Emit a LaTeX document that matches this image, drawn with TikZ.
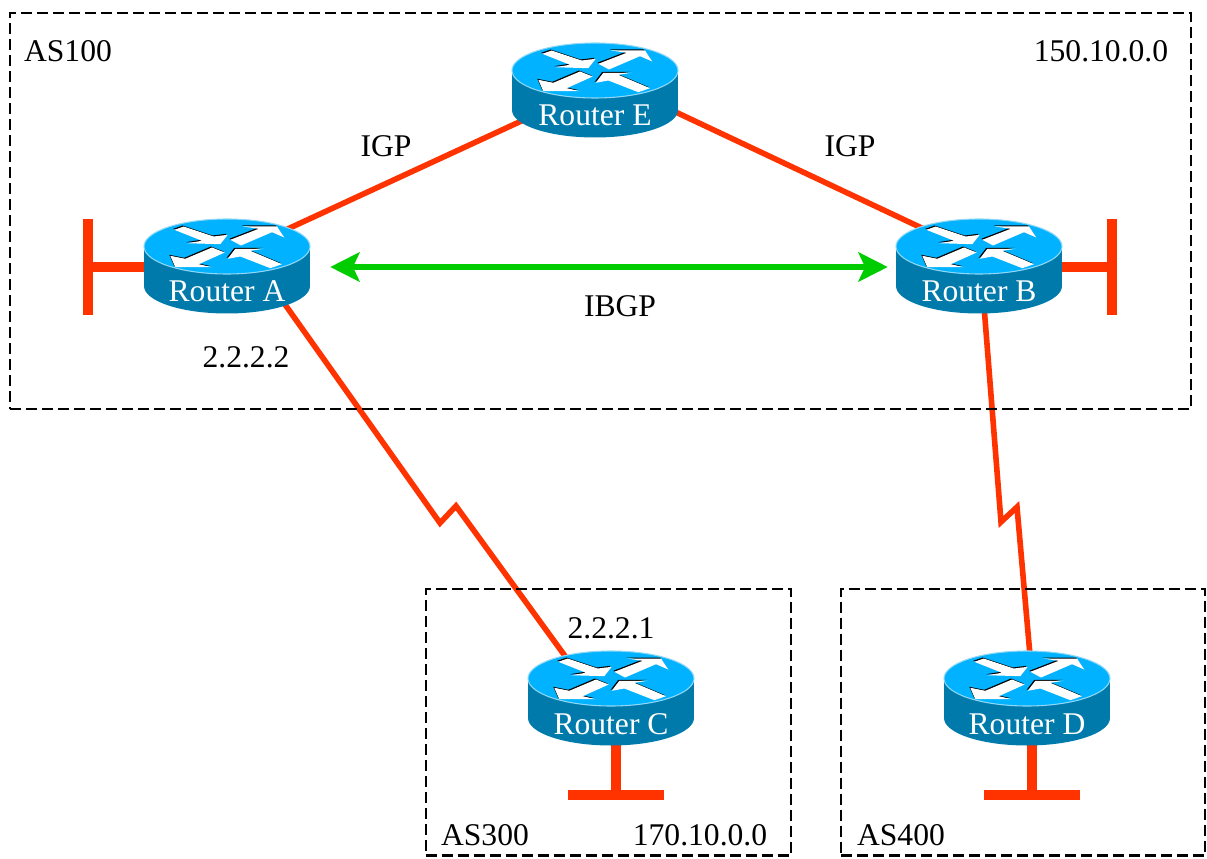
\documentclass[tikz,border=0pt]{standalone}
\usepackage{fontspec}
\setmainfont{Liberation Serif}
\usetikzlibrary{calc,arrows.meta,backgrounds}
\definecolor{wanred}{HTML}{FF3300}
\definecolor{ibgpgreen}{HTML}{00CC00}
\definecolor{routertop}{HTML}{00B2FF}
\definecolor{routerside}{HTML}{007AAB}
\definecolor{routeredge}{HTML}{8FD8F5}
\tikzset{
  asbox/.style={draw=black,line width=2.1pt,dash pattern=on 8.2pt off 3.8pt},
  wan/.style={draw=wanred,line width=4.2pt,line join=miter,line cap=butt},
  stub/.style={draw=wanred,line width=8.2pt},
  ibgp/.style={draw=ibgpgreen,line width=3.9pt,{Stealth[length=22pt,width=22pt,inset=5pt]}-{Stealth[length=22pt,width=22pt,inset=5pt]},shorten >=0pt,shorten <=0pt},
  lbl/.style={font=\fontsize{23.7pt}{26pt}\selectfont,inner sep=0pt,anchor=base,text=black},
  rlbl/.style={lbl,text=white},
  rbody/.style={inner sep=0pt,minimum width=124.5pt,minimum height=70.5pt},
}
\newcommand{\routerat}[4]{%
  \begin{scope}[shift={(#2,#3)}]
    \fill[routerside] (0,20) ellipse [x radius=83,y radius=27.5];
    \fill[routerside] (-83,-19.5) rectangle (83,20);
    \fill[routertop,draw=routeredge,line width=.8pt] (0,-19.5) ellipse [x radius=83,y radius=27.5];
    \begin{scope}[shift={(0,-19.5)}]
      \foreach \sx/\sc in {-1/black,0/white}{
        \begin{scope}[shift={(\sx,\sx)}]
          \fill[\sc] (-52.7,-16.7)--(-43.3,-20)--(-13.3,-10)--(.7,-11.7)--(-6.7,-2.3)--(-40,-3.3)--(-25,-5.7)--cycle;
          \fill[\sc] (3.3,-6.7)--(31.7,-17.7)--(16,-20)--(50,-20)--(57.3,-9)--(45,-14.3)--(14,-1)--cycle;
          \fill[\sc] (-56.7,9.3)--(-41.7,12.3)--(-15,1)--(-2.3,6)--(-28.3,17.7)--(-15,20.7)--(-51.7,20.7)--cycle;
          \fill[\sc] (.7,12.3)--(8.3,2.3)--(36.7,2.3)--(23.3,4.3)--(55,17.7)--(43.3,21.7)--(13.3,10)--cycle;
        \end{scope}
      }
    \end{scope}
  \end{scope}
  \node[rbody] (#1) at (#2,#3) {};
  \node[rlbl] (#1-label) at (#2,#3+36) {#4};
}
\begin{document}
\begin{tikzpicture}[x=.75pt,y=-.75pt]
\useasboundingbox (0,0) rectangle (1207,859);
\node[asbox,inner sep=0pt,minimum width=885.75pt,minimum height=297pt] (as100) at (600.5,211) {};
\node[asbox,inner sep=0pt,minimum width=273.75pt,minimum height=200pt] (as300) at (608.5,722.3) {};
\node[asbox,inner sep=0pt,minimum width=273pt,minimum height=200pt] (as400) at (1023,722.3) {};

\routerat{routerE}{595}{90}{Router E}
\routerat{routerA}{227}{266}{Router A}
\routerat{routerB}{979}{266}{Router B}
\routerat{routerC}{611}{698}{Router C}
\routerat{routerD}{1027}{698}{Router D}

\coordinate (zigAa) at (440,523);
\coordinate (zigAb) at (456,506);
\coordinate (zigBa) at (1001,522);
\coordinate (zigBb) at (1017,507);
\coordinate (stubA) at (88,267);
\coordinate (stubB) at (1112,267);
\coordinate (stubC) at (616,795);
\coordinate (stubD) at (1032,795);

\begin{scope}[on background layer]
  \draw[wan] ($(routerA)+(0,-9)$) -- ($(routerE)+(0,-3)$);
  \draw[wan] ($(routerE)+(0,-16)$) -- ($(routerB)+(0,-11)$);
  \draw[wan] ($(routerA)+(52,30)$) -- (zigAa) -- (zigAb) -- ($(routerC)+(-30,-20)$);
  \draw[wan] ($(routerB)+(5,40)$) -- (zigBa) -- (zigBb) -- ($(routerD)+(5,-20)$);
  \draw[stub] ($(routerA)+(0,1)$) -- (stubA);
  \draw[stub] ($(routerB)+(0,1)$) -- (stubB);
  \draw[stub] ($(routerC)+(5,30)$) -- (stubC);
  \draw[stub] ($(routerD)+(5,30)$) -- (stubD);
\end{scope}
\draw[stub,line cap=butt] ($(stubA)+(0,-48)$) -- ($(stubA)+(0,48)$);
\draw[stub,line cap=butt] ($(stubB)+(0,-48)$) -- ($(stubB)+(0,48)$);
\draw[stub,line cap=butt] ($(stubC)+(-48,0)$) -- ($(stubC)+(48,0)$);
\draw[stub,line cap=butt] ($(stubD)+(-48,0)$) -- ($(stubD)+(48,0)$);

\draw[ibgp] (routerA.east |- stubA) ++(20,0) coordinate (ibgpL) (routerB.west |- stubB) ++(-8,0) coordinate (ibgpR) (ibgpL) -- (ibgpR);

\node[lbl] (t100) at (68,62) {AS100};
\node[lbl] (tnet1) at (1101,62) {150.10.0.0};
\node[lbl] (tigp1) at (386,157) {IGP};
\node[lbl] (tigp2) at (850,157) {IGP};
\node[lbl] (tibgp) at (620,317) {IBGP};
\node[lbl] (tip2) at (246,368) {2.2.2.2};
\node[lbl] (tip1) at (611,638) {2.2.2.1};
\node[lbl] (t300) at (485,845) {AS300};
\node[lbl] (tnet3) at (700,845) {170.10.0.0};
\node[lbl] (t400) at (901,845) {AS400};
\end{tikzpicture}
\end{document}
